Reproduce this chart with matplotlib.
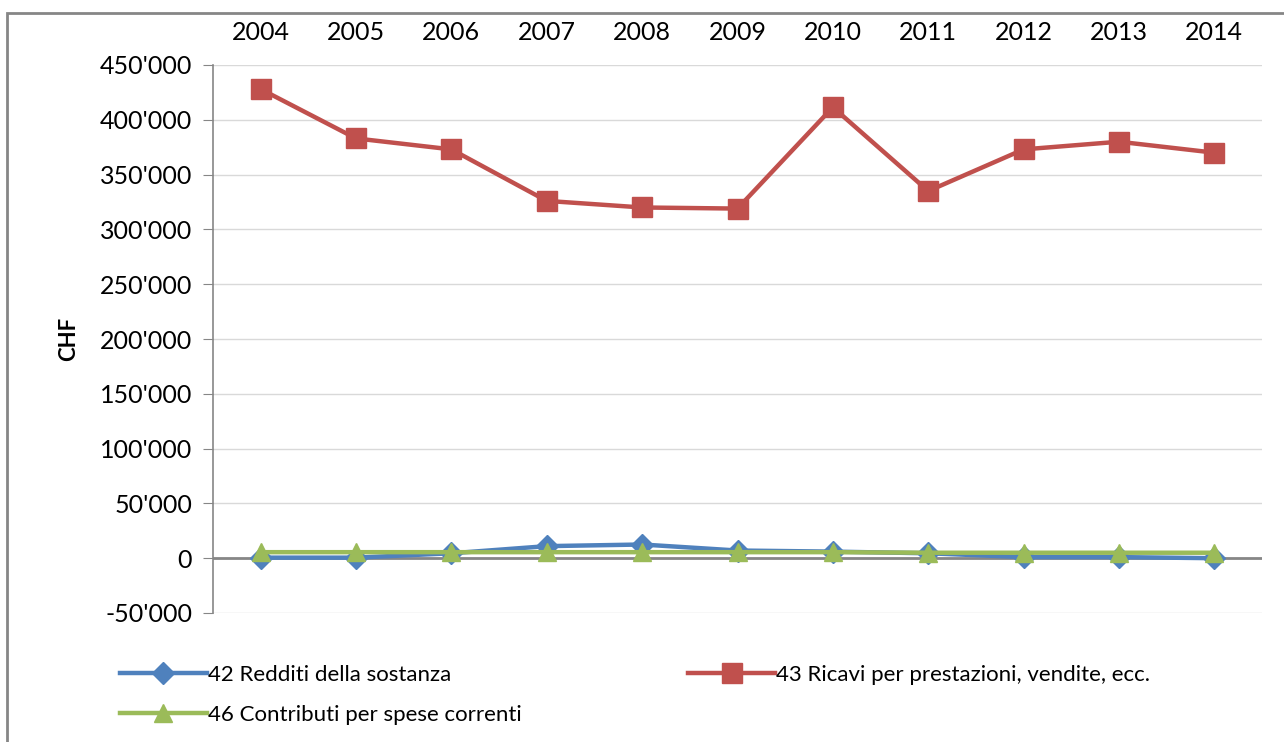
import matplotlib
matplotlib.use("Agg")
import matplotlib.pyplot as plt
from matplotlib.patches import Rectangle
from matplotlib.ticker import FuncFormatter

years = ["2004", "2005", "2006", "2007", "2008", "2009", "2010", "2011", "2012", "2013", "2014"]
redditi = [500, 500, 4500, 11000, 12500, 7000, 6000, 4500, 1000, 1000, 0]
ricavi = [428000, 383000, 373000, 326000, 320000, 319000, 411500, 335000, 373000, 380000, 370000]
contributi = [5500, 5500, 5500, 5500, 5500, 5500, 5500, 5000, 5000, 5000, 5000]
labels = ["42 Redditi della sostanza", "43 Ricavi per prestazioni, vendite, ecc.", "46 Contributi per spese correnti"]
yticks = list(range(-50000, 450001, 50000))

plt.rcParams['font.family'] = ['Lato', 'DejaVu Sans']

fig = plt.figure(figsize=(12.84, 7.42), dpi=100)
ax = fig.add_axes([213/1284, 1-613/742, (1262-213)/1284, (613-65)/742])

x = list(range(len(years)))
blue, red, green = "#4F81BD", "#C0504D", "#9BBB59"
l1, = ax.plot(x, redditi, color=blue, lw=3.2, marker="D", ms=11, zorder=4)
l2, = ax.plot(x, ricavi, color=red, lw=3.2, marker="s", ms=15, zorder=4)
l3, = ax.plot(x, contributi, color=green, lw=3.2, marker="^", ms=13, zorder=5)

ax.set_xlim(-0.5, len(years) - 0.5)
ax.set_ylim(-50000, 450000)
ax.set_yticks(yticks)
ax.yaxis.set_major_formatter(FuncFormatter(lambda v, p: f"{int(v):,}".replace(",", "'")))
ax.grid(axis="y", color="#D9D9D9", lw=1)
ax.set_axisbelow(True)
ax.axhline(0, color="#868686", lw=2, zorder=2)
for s in ["top", "right", "bottom"]:
    ax.spines[s].set_visible(False)
ax.spines["left"].set_color("#868686")
ax.spines["left"].set_linewidth(1.2)
ax.tick_params(axis="y", labelsize=18, length=7, color="#868686", pad=8)
ax.xaxis.tick_top()
ax.set_xticks(x)
ax.set_xticklabels(years)
ax.tick_params(axis="x", labelsize=18, length=0, pad=15)
ax.set_ylabel("CHF", fontsize=16, fontweight="bold", labelpad=15)

# outer chart border
fig.add_artist(Rectangle((7/1284, -0.5), 2, 1.5 - 13/742, transform=fig.transFigure,
                         fill=False, edgecolor="#868686", lw=2))

handles = [l1, l3, l2]
leg_labels = [labels[0], labels[2], labels[1]]
fig.legend(handles, leg_labels, ncol=2, loc="upper left", bbox_to_anchor=(100/1284, 1-645/742),
           frameon=False, handlelength=3.9, handletextpad=0.05, columnspacing=7.5,
           labelspacing=0.9, prop={"family": ["Lato", "DejaVu Sans"], "size": 16})

fig.savefig("out.png", dpi=100)
